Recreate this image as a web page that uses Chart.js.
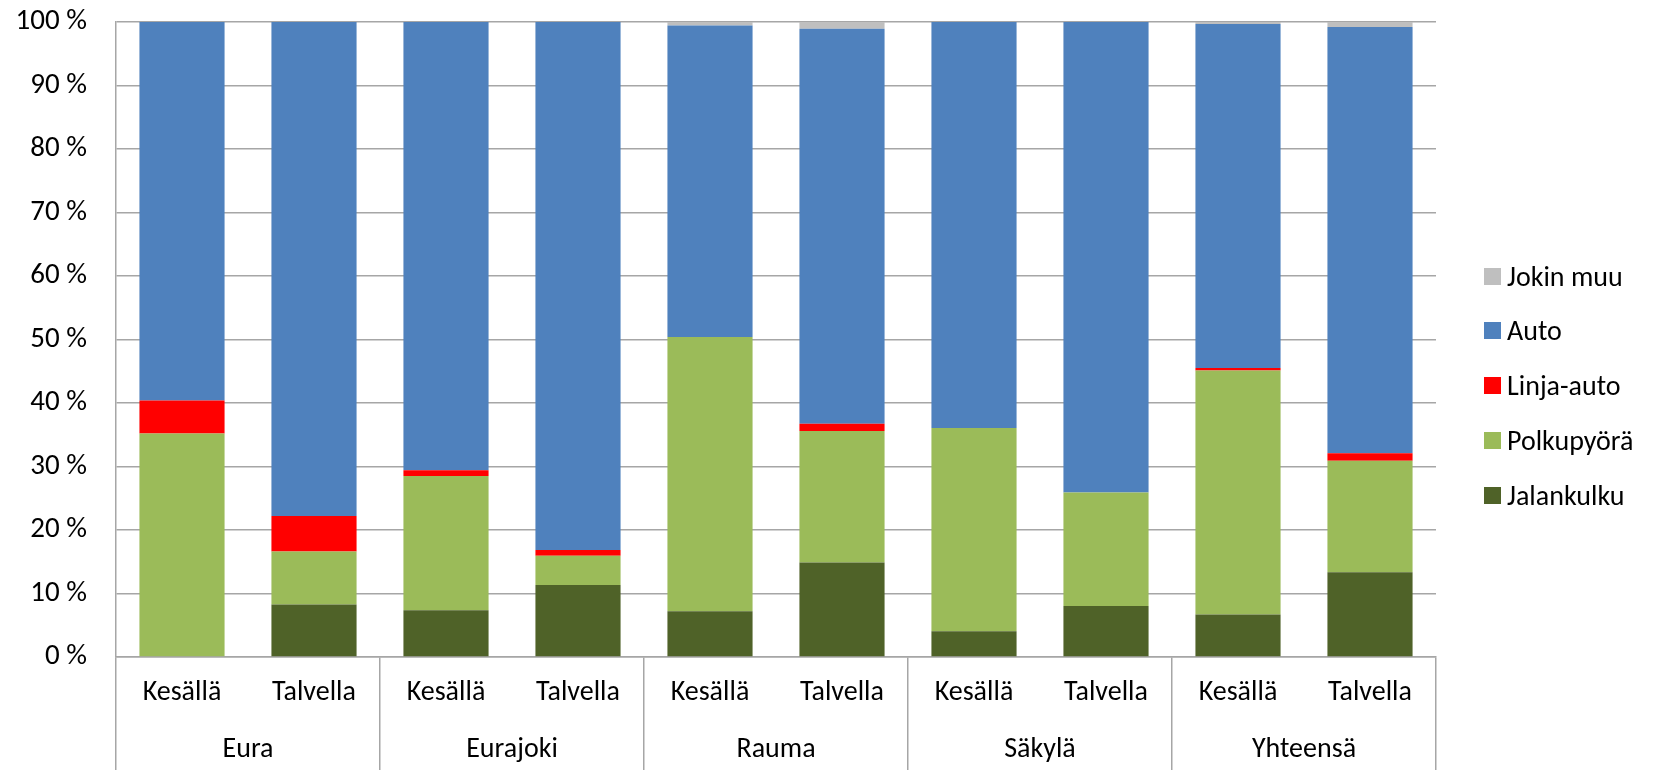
<!DOCTYPE html>
<html>
<head>
<meta charset="utf-8">
<script src="https://cdn.jsdelivr.net/npm/chart.js@4.4.1/dist/chart.umd.min.js"></script>
<style>
  body { margin: 0; background: #fff; }
  #wrap { position: relative; width: 1665px; height: 770px; }
  #legend { position: absolute; left: 1484px; top: 0; font: 28px Carlito, Calibri, Lato, sans-serif; color: #000; }
  .item { position: absolute; left: 0; height: 30px; display: flex; align-items: center; white-space: nowrap; }
  .box { width: 17px; height: 17px; margin-right: 6px; }
</style>
</head>
<body>
<div id="wrap">
  <canvas id="chart" width="1665" height="770"></canvas>
  <div id="legend"></div>
</div>
<script>
/* global Chart */

const categories = ['Kesällä', 'Talvella', 'Kesällä', 'Talvella', 'Kesällä', 'Talvella', 'Kesällä', 'Talvella', 'Kesällä', 'Talvella']
const groups = ['Eura', 'Eurajoki', 'Rauma', 'Säkylä', 'Yhteensä']

// osuudet prosentteina, alhaalta ylös
const jalankulku = [0, 8.25, 7.35, 11.35, 7.2, 14.9, 4.05, 8.05, 6.7, 13.35]
const polkupyora = [35.2, 8.35, 21.15, 4.6, 43.2, 20.7, 32.0, 17.85, 38.4, 17.55]
const linjaAuto = [5.2, 5.6, 0.9, 0.9, 0, 1.15, 0, 0, 0.4, 1.2]
const auto = [59.6, 77.8, 70.6, 83.15, 49.05, 62.2, 63.95, 74.1, 54.2, 67.1]
const jokinMuu = [0, 0, 0, 0, 0.55, 1.05, 0, 0, 0.3, 0.8]

const yMax = 100
const yStep = 10

const gray = '#a6a6a6'
const fontFamily = 'Carlito, Calibri, Lato, sans-serif'

const datasets = [
  { label: 'Jalankulku', data: jalankulku, backgroundColor: '#4f6228' },
  { label: 'Polkupyörä', data: polkupyora, backgroundColor: '#9bbb59' },
  { label: 'Linja-auto', data: linjaAuto, backgroundColor: '#ff0000' },
  { label: 'Auto', data: auto, backgroundColor: '#4f81bd' },
  { label: 'Jokin muu', data: jokinMuu, backgroundColor: '#bfbfbf' }
]

const chart = new Chart(document.getElementById('chart'), {
  type: 'bar',
  data: { labels: categories, datasets },
  options: {
    responsive: false,
    animation: false,
    layout: { padding: { left: 0, right: 229, top: 0, bottom: 0 } },
    datasets: {
      bar: { barPercentage: 0.645, categoryPercentage: 1, borderWidth: 0 }
    },
    plugins: {
      legend: { display: false },
      tooltip: { enabled: false }
    },
    scales: {
      y: {
        stacked: true,
        min: 0,
        max: yMax,
        ticks: {
          stepSize: yStep,
          padding: 29,
          color: '#000',
          font: { family: fontFamily, size: 29 },
          callback: (v) => `${v} %`
        },
        grid: { color: gray, lineWidth: 1.5, drawTicks: false },
        border: { display: true, color: gray, width: 1.5 },
        afterFit: (s) => {
          s.width = 116
          s.paddingTop = 22
        }
      },
      x: {
        stacked: true,
        weight: 0,
        ticks: {
          padding: -93.5,
          maxRotation: 0,
          autoSkip: false,
          color: '#000',
          font: { family: fontFamily, size: 28 }
        },
        grid: {
          offset: true,
          drawOnChartArea: false,
          drawTicks: true,
          tickLength: 113,
          lineWidth: 1.5,
          color: (c) => (c.index === undefined || c.index % 2 === 0) ? gray : 'rgba(0,0,0,0)'
        },
        border: { display: true, color: gray, width: 1.5 },
        afterFit: (s) => { s.height = 56 }
      },
      x2: {
        type: 'category',
        position: 'bottom',
        weight: 1,
        labels: groups,
        offset: true,
        ticks: {
          padding: 20.5,
          maxRotation: 0,
          color: '#000',
          font: { family: fontFamily, size: 28 }
        },
        grid: { display: false, drawTicks: false },
        border: { display: false },
        afterFit: (s) => { s.height = 57 }
      }
    }
  }
})

function renderLegend () {
  const legend = document.getElementById('legend')
  const items = chart.data.datasets.slice().reverse()
  legend.innerHTML = items.map((ds, i) => `
    <div class="item" style="top:${276 + i * 54.75 - 15}px">
      <span class="box" style="background:${ds.backgroundColor}"></span>${ds.label}
    </div>
  `).join('')
}

renderLegend()
</script>
</body>
</html>
